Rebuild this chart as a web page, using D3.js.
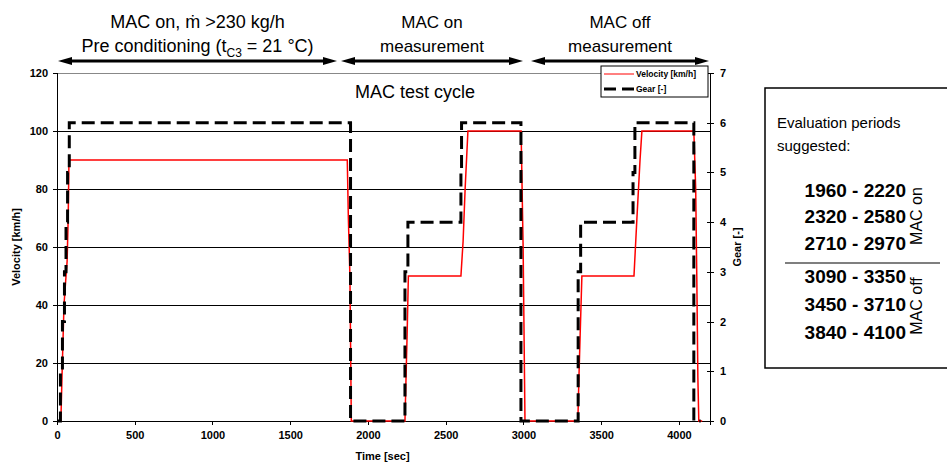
<!DOCTYPE html>
<html lang="en">
<head>
    <meta charset="UTF-8">
    <title>MAC test cycle</title>
    <style>
        body { margin: 0; background: #fff; }
        svg { display: block; font-family: Arial, "Liberation Sans", sans-serif; }
        .tick text { font-weight: bold; font-size: 11px; fill: #000; }
        .tick line, .domain { stroke: #000; shape-rendering: crispEdges; }
        .grid { shape-rendering: crispEdges; }
    </style>
    <script src="https://d3js.org/d3.v7.min.js"></script>
</head>
<body>
<svg width="947" height="465"></svg>
<script>
    // velocity trace [km/h]
    const velTime = [0, 25, 32, 45, 58, 65, 72, 77, 1867, 1874, 1884, 1893, 2238, 2245, 2252, 2260, 2598, 2612, 2625, 2643, 2985, 2998, 3010, 3350, 3357, 3365, 3376, 3711, 3730, 3750, 3762, 4096, 4108, 4115, 4122, 4128, 4150];
    const velocity = [0, 0, 15, 40, 50, 55, 70, 90, 90, 70, 50, 0, 0, 15, 30, 50, 50, 62, 80, 100, 100, 60, 0, 0, 15, 30, 50, 50, 70, 90, 100, 100, 80, 50, 15, 0, 0];

    // gear trace (changes), held until next change
    const gearTime = [0, 22, 35, 48, 58, 68, 79, 1888, 2238, 2257, 2598, 2602, 2984, 3352, 3368, 3705, 3717, 4096, 4140];
    const gear = [0, 1, 2, 3, 4, 5, 6, 0, 3, 4, 5, 6, 0, 3, 4, 5, 6, 0, 0];

    const xTicks = [0, 500, 1000, 1500, 2000, 2500, 3000, 3500, 4000];
    const velTicks = [0, 20, 40, 60, 80, 100, 120];
    const gearTicks = [0, 1, 2, 3, 4, 5, 6, 7];

    const phases = [
        { from: 58, to: 337, lines: ["MAC on, ṁ >230 kg/h", "Pre conditioning"] },
        { from: 341, to: 523, lines: ["MAC on", "measurement"] },
        { from: 531, to: 709, lines: ["MAC off", "measurement"] }
    ];
    const periodsOn = ["1960 - 2220", "2320 - 2580", "2710 - 2970"];
    const periodsOff = ["3090 - 3350", "3450 - 3710", "3840 - 4100"];

    const svg = d3.select("svg");
    const pL = 57, pR = 710, pT = 73, pB = 421;

    const x = d3.scaleLinear().domain([0, 4200]).range([pL, pR]);
    const yV = d3.scaleLinear().domain([0, 120]).range([pB, pT]);
    const yG = d3.scaleLinear().domain([0, 7]).range([pB, pT]);

    // plot frame (top side grey)
    svg.append("line").attr("class", "grid").attr("x1", pL).attr("x2", pR).attr("y1", pT).attr("y2", pT)
        .attr("stroke", "#888").attr("stroke-width", 1);

    // grid lines
    svg.selectAll("line.hgrid")
        .data(velTicks.filter(d => d > 0 && d < 120))
        .enter().append("line")
        .attr("class", "grid hgrid")
        .attr("x1", pL).attr("x2", pR)
        .attr("y1", d => yV(d)).attr("y2", d => yV(d))
        .attr("stroke", "#000").attr("stroke-width", 1);

    // axes
    svg.append("g").attr("transform", `translate(0,${pB})`)
        .call(d3.axisBottom(x).tickValues(xTicks).tickSize(4).tickPadding(6).tickFormat(d3.format("d")));
    svg.append("g").attr("transform", `translate(${pL},0)`)
        .call(d3.axisLeft(yV).tickValues(velTicks).tickSize(4).tickPadding(5).tickFormat(d3.format("d")));
    const gAx = svg.append("g").attr("transform", `translate(${pR},0)`)
        .call(d3.axisRight(yG).tickValues(gearTicks).tickSize(4).tickPadding(6).tickFormat(d3.format("d")));
    gAx.selectAll(".tick line").attr("x1", -3);
    svg.selectAll(".domain").attr("stroke-width", 1.3);

    // axis titles
    svg.append("text").attr("transform", `translate(20,${(pT + pB) / 2}) rotate(-90)`)
        .attr("text-anchor", "middle").attr("font-size", 11).attr("font-weight", "bold")
        .text("Velocity [km/h]");
    svg.append("text").attr("transform", `translate(741,${(pT + pB) / 2}) rotate(-90)`)
        .attr("text-anchor", "middle").attr("font-size", 11).attr("font-weight", "bold")
        .text("Gear [-]");
    svg.append("text").attr("x", (pL + pR) / 2 - 1).attr("y", 460)
        .attr("text-anchor", "middle").attr("font-size", 11).attr("font-weight", "bold")
        .text("Time [sec]");

    // series
    const velLine = d3.line().x((d, i) => x(velTime[i])).y(d => yV(d));
    svg.append("path").datum(velocity)
        .attr("d", velLine)
        .attr("fill", "none").attr("stroke", "#ff0000").attr("stroke-width", 1.5);

    const gearLine = d3.line().curve(d3.curveStepAfter).x((d, i) => x(gearTime[i])).y(d => yG(d));
    svg.append("path").datum(gear)
        .attr("d", gearLine)
        .attr("fill", "none").attr("stroke", "#000").attr("stroke-width", 3)
        .attr("stroke-dasharray", "13,6");

    // chart title
    svg.append("text").attr("x", 415).attr("y", 98).attr("text-anchor", "middle")
        .attr("font-size", 18).text("MAC test cycle");

    // legend
    const lg = svg.append("g").attr("transform", "translate(601,66)");
    lg.append("rect").attr("width", 107).attr("height", 31).attr("fill", "#fff").attr("stroke", "#000");
    lg.append("line").attr("x1", 3).attr("x2", 33).attr("y1", 8).attr("y2", 8)
        .attr("stroke", "#ff0000").attr("stroke-width", 1);
    lg.append("line").attr("x1", 3).attr("x2", 33).attr("y1", 23).attr("y2", 23)
        .attr("stroke", "#000").attr("stroke-width", 3).attr("stroke-dasharray", "12,6");
    lg.append("text").attr("x", 35).attr("y", 11).attr("font-size", 8.5).attr("font-weight", "bold").text("Velocity [km/h]");
    lg.append("text").attr("x", 35).attr("y", 26).attr("font-size", 8.5).attr("font-weight", "bold").text("Gear [-]");

    // phase annotations with double arrows
    phases.forEach((p, i) => {
        const cx = (p.from + p.to) / 2;
        const g = svg.append("g");
        const fs = i === 0 ? 18 : 17;
        g.append("text").attr("x", cx).attr("y", 28).attr("text-anchor", "middle")
            .attr("font-size", fs).text(p.lines[0]);
        const t2 = g.append("text").attr("x", cx).attr("y", 52).attr("text-anchor", "middle")
            .attr("font-size", fs).text(p.lines[1]);
        if (i === 0) {
            t2.append("tspan").text(" (t");
            t2.append("tspan").attr("font-size", 12).attr("dy", 5).text("C3");
            t2.append("tspan").attr("dy", -5).text(" = 21 °C)");
        }
        const ay = 61;
        g.append("line").attr("x1", p.from + 8).attr("x2", p.to - 8).attr("y1", ay).attr("y2", ay)
            .attr("stroke", "#000").attr("stroke-width", 3);
        g.append("path").attr("d", `M${p.from},${ay} L${p.from + 14},${ay - 4} L${p.from + 14},${ay + 4} Z`).attr("fill", "#000");
        g.append("path").attr("d", `M${p.to},${ay} L${p.to - 14},${ay - 4} L${p.to - 14},${ay + 4} Z`).attr("fill", "#000");
    });

    // evaluation periods box
    const bx = svg.append("g");
    bx.append("rect").attr("x", 765).attr("y", 88).attr("width", 200).attr("height", 280)
        .attr("fill", "#fff").attr("stroke", "#000").attr("stroke-width", 1.5);
    bx.append("text").attr("x", 777).attr("y", 128).attr("font-size", 15).text("Evaluation periods");
    bx.append("text").attr("x", 777).attr("y", 151).attr("font-size", 15).text("suggested:");
    periodsOn.concat(periodsOff).forEach((s, i) => {
        const yy = [197, 223, 250, 283, 311, 339][i];
        bx.append("text").attr("x", 906).attr("y", yy).attr("text-anchor", "end")
            .attr("font-size", 19).attr("font-weight", "bold").text(s);
    });
    bx.append("line").attr("x1", 785).attr("x2", 940).attr("y1", 263).attr("y2", 263)
        .attr("stroke", "#000").attr("stroke-width", 1.2);
    bx.append("text").attr("transform", "translate(922,216) rotate(-90)").attr("text-anchor", "middle")
        .attr("font-size", 16).text("MAC on");
    bx.append("text").attr("transform", "translate(922,306) rotate(-90)").attr("text-anchor", "middle")
        .attr("font-size", 16).text("MAC off");
</script>
</body>
</html>
